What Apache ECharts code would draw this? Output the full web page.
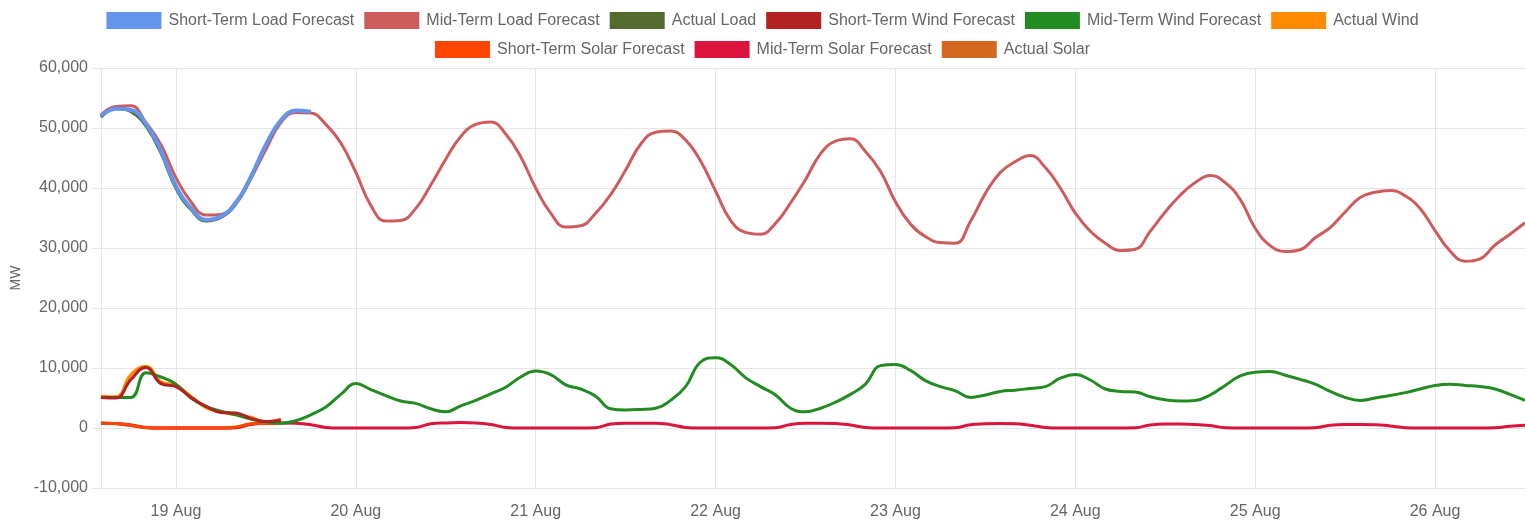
<!DOCTYPE html>
<html>
<head>
<meta charset="utf-8">
<title>Load, wind and solar forecast</title>
<script src="https://cdn.jsdelivr.net/npm/echarts@6/dist/echarts.min.js"></script>
<style>
  html, body { margin: 0; padding: 0; background: #fff; }
  #chart { width: 1525px; height: 523px; }
</style>
</head>
<body>
<div id="chart"></div>
<script>
// 2-hourly samples starting 18 Aug 14:00, values in MW
var START = new Date(2024, 7, 18, 14).getTime();
var END = new Date(2024, 7, 26, 12).getTime();
var STEP = 2 * 3600 * 1000;
var DAY = 24 * 3600 * 1000;

var seriesNames = [
    'Short-Term Load Forecast', 'Mid-Term Load Forecast', 'Actual Load',
    'Short-Term Wind Forecast', 'Mid-Term Wind Forecast', 'Actual Wind',
    'Short-Term Solar Forecast', 'Mid-Term Solar Forecast', 'Actual Solar'
];
var seriesColors = [
    '#6495ED', '#CD5C5C', '#556B2F',
    '#B22222', '#228B22', '#FF8C00',
    '#FF4500', '#DC143C', '#D2691E'
];

var shortLoad = [52000, 53200, 53000, 50700, 46200, 40300, 36700, 34700, 35300, 37500,
    41900, 47200, 51300, 52900, 52700];
var midLoad = [52200, 53600, 53700, 50900, 47200, 41700, 37700, 35500, 35600, 37700,
    41600, 46400, 50900, 52600, 52500, 50600, 47500, 42600, 37100, 34500,
    34600, 36600, 40500, 44800, 48600, 50600, 51000, 49000, 45200, 40000,
    35800, 33500, 33700, 35800, 38900, 43000, 47300, 49300, 49500, 48000,
    44500, 39500, 34600, 32600, 32300, 34100, 37500, 41400, 45700, 47800,
    48200, 46100, 42800, 37700, 34000, 31900, 30900, 30800, 34400, 39100,
    42600, 44400, 45400, 43400, 40000, 35800, 32800, 30800, 29600, 29800,
    32800, 36000, 38800, 40900, 42100, 40900, 38100, 33300, 30400, 29400,
    29700, 31700, 33400, 36000, 38400, 39300, 39600, 38700, 36600, 32900,
    29500, 27800, 28200, 30500, 32300, 34200];
var actualLoad = [51800, 53300, 52700, 50300, 45800, 39900, 36400, 34500, 35100, 37300,
    41600, 47000, 51200];

var shortWind = [5100, 5000, 8100, 10100, 7400, 6900, 5100, 3600, 2600, 2500,
    1600, 1100, 1300];
var midWind = [5100, 5100, 5100, 9200, 8500, 7300, 5000, 3600, 2800, 2200,
    1500, 1000, 800, 1200, 2200, 3500, 5600, 7400, 6400, 5400,
    4500, 4100, 3200, 2700, 3700, 4600, 5700, 6800, 8500, 9500,
    8900, 7200, 6500, 5300, 3200, 3000, 3100, 3300, 4600, 6900,
    11000, 11700, 10600, 8400, 6900, 5500, 3300, 2700, 3300, 4300,
    5600, 7300, 10400, 10600, 9600, 7900, 6900, 6200, 5100, 5500,
    6100, 6300, 6600, 6900, 8300, 8900, 8000, 6500, 6100, 6000,
    5200, 4700, 4500, 4600, 5500, 7100, 8700, 9300, 9400, 8800,
    8100, 7300, 6100, 5100, 4600, 5000, 5400, 5900, 6500, 7100,
    7300, 7100, 6900, 6500, 5600, 4600];
var actualWind = [5300, 5200, 8900, 10300, 7700, 7100, 5300, 3400, 2700, 2200,
    1800, 1000, 1500];

var shortSolar = [800, 750, 450, 100, 0, 0, 0, 0, 0, 150, 700, 800, 800];
var midSolar = [800, 750, 500, 100, 0, 0, 0, 0, 0, 50,
    600, 800, 850, 800, 550, 100, 0, 0, 0, 0,
    0, 100, 700, 850, 900, 850, 600, 100, 0, 0,
    0, 0, 0, 50, 650, 800, 800, 800, 550, 100,
    0, 0, 0, 0, 0, 50, 600, 800, 800, 750,
    500, 100, 0, 0, 0, 0, 0, 50, 550, 700,
    750, 700, 450, 100, 0, 0, 0, 0, 0, 50,
    500, 650, 650, 600, 400, 50, 0, 0, 0, 0,
    0, 50, 450, 600, 600, 550, 350, 50, 0, 0,
    0, 0, 0, 50, 300, 450];
var actualSolar = [850, 700, 400, 50, 0, 0, 0, 0, 0, 100, 650, 800, 850];

var seriesValues = [shortLoad, midLoad, actualLoad, shortWind, midWind, actualWind,
    shortSolar, midSolar, actualSolar];

var FONT = '"Liberation Sans", Arial, Helvetica, sans-serif';
var GRID = '#e6e6e6';
var TEXT = '#666';

function pairs(values) {
    return values.map(function (v, j) { return [START + j * STEP, v]; });
}

var series = seriesValues.map(function (values, i) {
    return {
        name: seriesNames[i],
        type: 'line',
        data: pairs(values),
        symbol: 'none',
        smooth: 0.45,
        z: 20 - i,
        itemStyle: { color: seriesColors[i] },
        lineStyle: { color: seriesColors[i], width: i === 0 ? 4 : 3 }
    };
});

function legend(names, top) {
    return {
        data: names,
        top: top,
        left: 'center',
        icon: 'rect',
        itemWidth: 55,
        itemHeight: 17,
        itemGap: 10,
        textStyle: { color: TEXT, fontSize: 16, fontFamily: FONT, padding: [0, 0, 0, 2] }
    };
}

var myChart = echarts.init(document.getElementById('chart'), null, { renderer: 'canvas' });
myChart.setOption({
    backgroundColor: '#fff',
    animation: false,
    textStyle: { fontFamily: FONT },
    legend: [legend(seriesNames.slice(0, 6), 7), legend(seriesNames.slice(6), 36)],
    grid: { left: 101, right: 0, top: 68, bottom: 35 },
    xAxis: {
        type: 'time',
        min: START,
        max: END,
        minInterval: DAY,
        maxInterval: DAY,
        axisLine: { lineStyle: { color: GRID } },
        axisTick: { length: 8, lineStyle: { color: GRID } },
        splitLine: { show: true, lineStyle: { color: GRID } },
        axisLabel: {
            color: TEXT,
            fontSize: 16,
            fontFamily: FONT,
            margin: 16,
            formatter: function (val) {
                return new Date(val).getDate() + ' Aug';
            }
        }
    },
    yAxis: {
        type: 'value',
        min: -10000,
        max: 60000,
        interval: 10000,
        name: 'MW',
        nameLocation: 'middle',
        nameGap: 78,
        nameTextStyle: { color: TEXT, fontSize: 14, fontFamily: FONT },
        axisLine: { show: true, lineStyle: { color: GRID } },
        axisTick: { show: true, length: 9, lineStyle: { color: GRID } },
        splitLine: { lineStyle: { color: GRID } },
        axisLabel: {
            color: TEXT,
            fontSize: 16,
            fontFamily: FONT,
            margin: 13,
            formatter: function (v) { return v.toLocaleString('en-US'); }
        }
    },
    series: series
});
</script>
</body>
</html>
